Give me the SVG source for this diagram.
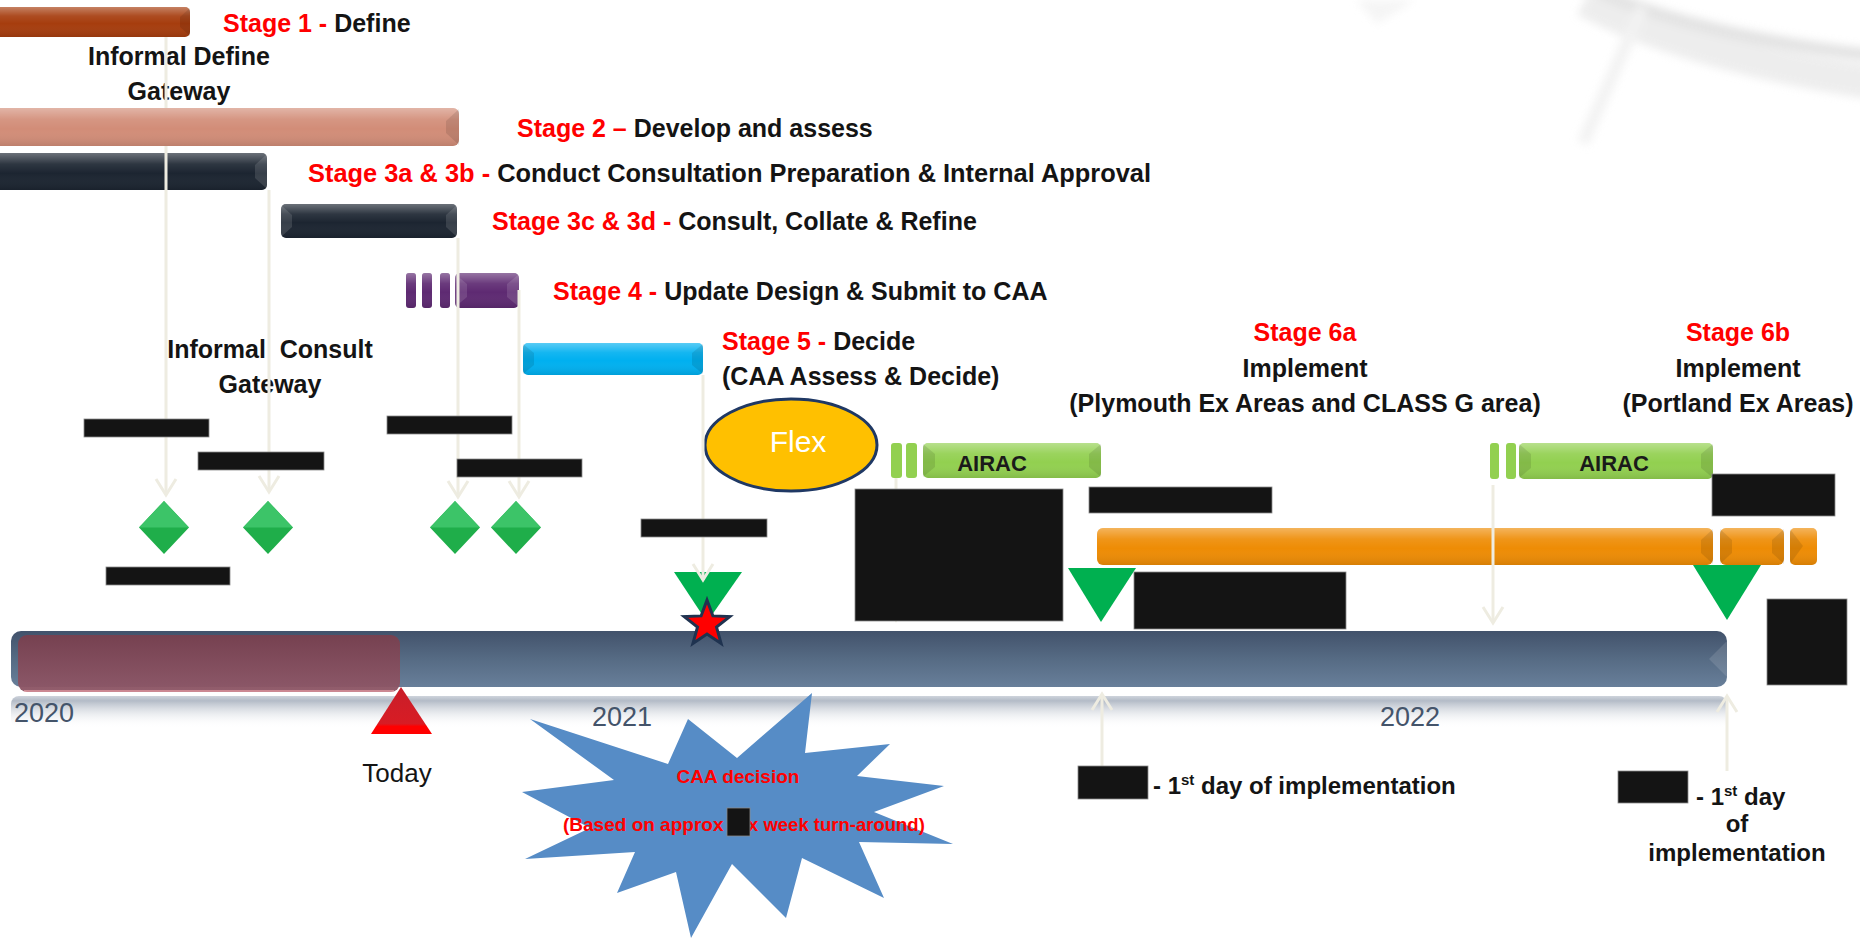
<svg xmlns="http://www.w3.org/2000/svg" width="1860" height="938" viewBox="0 0 1860 938">
<defs>
<style>
.t{font-family:"Liberation Sans",Arial,sans-serif;font-weight:bold;font-size:25px;fill:#141414}
.r{fill:#ff0000}
.c{text-anchor:middle}
.yr{font-family:"Liberation Sans",Arial,sans-serif;font-size:27px;fill:#44546a}
.today{font-family:"Liberation Sans",Arial,sans-serif;font-size:26px;fill:#141414}
.bt{font-family:"Liberation Sans",Arial,sans-serif;font-weight:bold;font-size:19px;fill:#ff0000}
.fd{font-family:"Liberation Sans",Arial,sans-serif;font-weight:bold;font-size:24px;fill:#141414}
.air{font-family:"Liberation Sans",Arial,sans-serif;font-weight:bold;font-size:22px;fill:#1a1a1a}
.flex{font-family:"Liberation Sans",Arial,sans-serif;font-size:30px;fill:#ffffff}
.cn{stroke:#eeece1;stroke-width:3;fill:none;marker-end:url(#arr)}
.red{fill:#141414;stroke:#8a8a8a;stroke-width:0.8}
.sh{fill:url(#shine)}
.fc{fill:#000;fill-opacity:0.1}
.fl{fill:#fff;fill-opacity:0.12}
.dia{fill:#1fae4a}
.diat{fill:#3cc468}
.gtri{fill:#00b050}
</style>
<linearGradient id="shine" x1="0" y1="0" x2="0" y2="1">
<stop offset="0" stop-color="#fff" stop-opacity="0.35"/>
<stop offset="0.3" stop-color="#fff" stop-opacity="0.08"/>
<stop offset="0.55" stop-color="#fff" stop-opacity="0"/>
<stop offset="1" stop-color="#000" stop-opacity="0.1"/>
</linearGradient>
<linearGradient id="tl" x1="0" y1="0" x2="0" y2="1">
<stop offset="0" stop-color="#42526b"/>
<stop offset="0.5" stop-color="#566b84"/>
<stop offset="1" stop-color="#687f9a"/>
</linearGradient>
<linearGradient id="ov" x1="0" y1="0" x2="0" y2="1">
<stop offset="0" stop-color="#78404f"/>
<stop offset="1" stop-color="#8e5767"/>
</linearGradient>
<linearGradient id="band" x1="0" y1="0" x2="0" y2="1">
<stop offset="0" stop-color="#c9cfd8" stop-opacity="0.9"/>
<stop offset="0.15" stop-color="#a6afbd" stop-opacity="0.85"/>
<stop offset="1" stop-color="#ffffff" stop-opacity="0"/>
</linearGradient>
<linearGradient id="tri" gradientUnits="userSpaceOnUse" x1="0" y1="687" x2="0" y2="734">
<stop offset="0" stop-color="#c81e2a"/>
<stop offset="0.78" stop-color="#d81c24"/>
<stop offset="0.84" stop-color="#ff0000"/>
<stop offset="1" stop-color="#ff0000"/>
</linearGradient>
<filter id="blur" x="-20%" y="-20%" width="140%" height="140%"><feGaussianBlur stdDeviation="4"/></filter>
<marker id="arr" markerUnits="userSpaceOnUse" markerWidth="24" markerHeight="24" viewBox="0 0 24 24" refX="20" refY="12" orient="auto">
<path d="M4,2 L20,12 L4,22" fill="none" stroke="#eeece1" stroke-width="3"/>
</marker>
</defs>
<rect x="0" y="0" width="1860" height="938" fill="#ffffff"/>

<g id="background-decoration" filter="url(#blur)" opacity="0.6">
<path d="M1585,0 Q1690,55 1870,82" fill="none" stroke="#e2e2e2" stroke-width="34"/>
<path d="M1600,-8 Q1700,35 1870,55" fill="none" stroke="#d0d0d0" stroke-width="12"/>
<line x1="1642" y1="8" x2="1583" y2="143" stroke="#eaeaea" stroke-width="12"/>
<path d="M1356,0 L1377,24 L1415,0 Z" fill="#efefef"/>
</g>

<g id="timeline">
<rect x="11" y="631" width="1716" height="56" rx="10" fill="url(#tl)"/>
<polygon points="1727,641 1709,659 1727,677" fill="#fff" fill-opacity="0.12"/>
<rect x="18" y="635" width="382" height="57" rx="9" fill="url(#ov)" fill-opacity="0.96"/>
<path d="M24,691 L394,691" stroke="#f4a6ae" stroke-opacity="0.6" stroke-width="2"/>
<rect x="11" y="696" width="1716" height="32" rx="8" fill="url(#band)"/>
<polygon id="today-marker" points="371,734 432,734 401,687" fill="url(#tri)"/>
<text class="yr" x="14" y="722">2020</text>
<text class="yr" x="592" y="726">2021</text>
<text class="yr" x="1380" y="726">2022</text>
<text class="today c" x="397" y="782">Today</text>
</g>

<g id="stage1-bar">
<rect x="-6" y="7" width="196" height="30" rx="5" fill="#a63d0e"/>
<rect x="-6" y="7" width="196" height="30" rx="5" class="sh"/>
<polygon class="fc" points="180,17 190,8 190,36 180,27"/>
</g>
<g id="stage3a-bar">
<rect x="-6" y="153" width="273" height="37" rx="5" fill="#1c2531"/>
<rect x="-6" y="153" width="273" height="37" rx="5" class="sh"/>
<polygon class="fl" points="255,165 267,154 267,189 255,178"/>
</g>
<g id="stage3c-bar">
<rect x="281" y="204" width="176" height="34" rx="5" fill="#1c2531"/>
<rect x="281" y="204" width="176" height="34" rx="5" class="sh"/>
<polygon class="fl" points="446,215 457,205 457,237 446,227"/>
<polygon class="fl" points="292,215 281,205 281,237 292,227"/>
</g>
<g id="stage4-bars">
<rect x="406" y="273" width="10" height="35" rx="3" fill="#5e2a72"/>
<rect x="422" y="273" width="10" height="35" rx="3" fill="#5e2a72"/>
<rect x="440" y="273" width="10" height="35" rx="3" fill="#5e2a72"/>
<rect x="455" y="273" width="64" height="35" rx="5" fill="#5e2a72"/>
<rect x="406" y="273" width="10" height="35" rx="3" class="sh"/>
<rect x="422" y="273" width="10" height="35" rx="3" class="sh"/>
<rect x="440" y="273" width="10" height="35" rx="3" class="sh"/>
<rect x="455" y="273" width="64" height="35" rx="5" class="sh"/>
<polygon class="fl" points="507,284 519,274 519,307 507,297"/>
<polygon class="fl" points="467,284 455,274 455,307 467,297"/>
</g>
<g id="stage5-bar">
<rect x="523" y="343" width="180" height="32" rx="5" fill="#00b0f0"/>
<rect x="523" y="343" width="180" height="32" rx="5" class="sh"/>
<polygon class="fc" points="692,353 703,344 703,374 692,365"/>
<polygon class="fc" points="534,353 523,344 523,374 534,365"/>
</g>

<g id="gateway-diamonds">
<polygon class="dia" points="164,501 189,527.5 164,554 139,527.5"/>
<polygon class="diat" points="164,501 189,527.5 139,527.5"/>
<polygon class="dia" points="268,501 293,527.5 268,554 243,527.5"/>
<polygon class="diat" points="268,501 293,527.5 243,527.5"/>
<polygon class="dia" points="455,501 480,527.5 455,554 430,527.5"/>
<polygon class="diat" points="455,501 480,527.5 430,527.5"/>
<polygon class="dia" points="516,501 541,527.5 516,554 491,527.5"/>
<polygon class="diat" points="516,501 541,527.5 491,527.5"/>
</g>

<g id="flex">
<ellipse cx="791" cy="445" rx="86" ry="46" fill="#ffc000" stroke="#1f3864" stroke-width="3"/>
<text class="flex c" x="798" y="452">Flex</text>
</g>

<g id="airac1">
<rect x="891" y="443" width="11" height="35" rx="3" fill="#92d050"/>
<rect x="906" y="443" width="11" height="35" rx="3" fill="#92d050"/>
<rect x="923" y="443" width="178" height="35" rx="5" fill="#92d050"/>
<rect x="923" y="443" width="178" height="35" rx="5" class="sh"/>
<polygon class="fc" points="1089,454 1101,444 1101,477 1089,467"/>
<polygon class="fc" points="935,454 923,444 923,477 935,467"/>
<text class="air c" x="992" y="471">AIRAC</text>
</g>
<g id="airac2">
<rect x="1490" y="443" width="9" height="36" rx="3" fill="#92d050"/>
<rect x="1506" y="443" width="10" height="36" rx="3" fill="#92d050"/>
<rect x="1519" y="443" width="194" height="36" rx="5" fill="#92d050"/>
<rect x="1519" y="443" width="194" height="36" rx="5" class="sh"/>
<polygon class="fc" points="1701,454 1713,444 1713,478 1701,468"/>
<polygon class="fc" points="1531,454 1519,444 1519,478 1531,468"/>
<text class="air c" x="1614" y="471">AIRAC</text>
</g>

<g id="stage6-bars">
<rect x="1097" y="528" width="616" height="37" rx="6" fill="#ee8c05"/>
<rect x="1097" y="528" width="616" height="37" rx="6" class="sh"/>
<polygon class="fc" points="1701,540 1713,529 1713,564 1701,553"/>
<rect x="1720" y="528" width="64" height="37" rx="6" fill="#ee8c05"/>
<rect x="1720" y="528" width="64" height="37" rx="6" class="sh"/>
<polygon class="fc" points="1732,540 1720,529 1720,564 1732,553"/>
<polygon class="fc" points="1772,540 1784,529 1784,564 1772,553"/>
<rect x="1790" y="528" width="27" height="37" rx="5" fill="#ee8c05"/>
<rect x="1790" y="528" width="27" height="37" rx="5" class="sh"/>
<polygon class="fc" points="1790,529 1803,546 1790,564"/>
</g>

<g id="milestone-triangles">
<polygon class="gtri" points="674,572 742,572 707,622"/>
<polygon class="gtri" points="1068,568 1136,568 1101,622"/>
<polygon class="gtri" points="1693,565 1761,565 1727,620"/>
</g>

<g id="labels">
<text class="t" x="223" y="32"><tspan class="r">Stage 1 -</tspan> Define</text>
<text class="t c" x="179" y="65">Informal Define</text>
<text class="t c" x="179" y="100">Gateway</text>
<text class="t" x="517" y="137"><tspan class="r">Stage 2 –</tspan> Develop and assess</text>
<text class="t" x="308" y="182" textLength="843" lengthAdjust="spacingAndGlyphs"><tspan class="r">Stage 3a &amp; 3b -</tspan> Conduct Consultation Preparation &amp; Internal Approval</text>
<text class="t" x="492" y="230"><tspan class="r">Stage 3c &amp; 3d -</tspan> Consult, Collate &amp; Refine</text>
<text class="t" x="553" y="300"><tspan class="r">Stage 4 -</tspan> Update Design &amp; Submit to CAA</text>
<text class="t" x="722" y="350"><tspan class="r">Stage 5 -</tspan> Decide</text>
<text class="t" x="722" y="385">(CAA Assess &amp; Decide)</text>
<text class="t c" x="270" y="358" style="white-space:pre">Informal  Consult</text>
<text class="t c" x="270" y="393">Gateway</text>
<text class="t c r" x="1305" y="341">Stage 6a</text>
<text class="t c" x="1305" y="377">Implement</text>
<text class="t c" x="1305" y="412">(Plymouth Ex Areas and CLASS G area)</text>
<text class="t c r" x="1738" y="341">Stage 6b</text>
<text class="t c" x="1738" y="377">Implement</text>
<text class="t c" x="1738" y="412">(Portland Ex Areas)</text>
<text class="fd" x="1153" y="794">- 1<tspan font-size="15" dy="-9">st</tspan><tspan dy="9"> day of implementation</tspan></text>
<text class="fd" x="1696" y="805">- 1<tspan font-size="15" dy="-9">st</tspan><tspan dy="9"> day</tspan></text>
<text class="fd c" x="1737" y="832">of</text>
<text class="fd c" x="1737" y="861">implementation</text>
</g>

<g id="connectors">
<line class="cn" x1="166" y1="37" x2="166" y2="495"/>
<line class="cn" x1="269" y1="190" x2="269" y2="492"/>
<line class="cn" x1="458" y1="238" x2="458" y2="497"/>
<line class="cn" x1="519" y1="290" x2="519" y2="497"/>
<line class="cn" x1="703" y1="375" x2="703" y2="580"/>
<line class="cn" x1="896" y1="478" x2="896" y2="620"/>
<line class="cn" x1="1493" y1="485" x2="1493" y2="623"/>
<line class="cn" x1="1102" y1="766" x2="1102" y2="694"/>
<line class="cn" x1="1727" y1="771" x2="1727" y2="696"/>
</g>

<g id="stage2-bar">
<rect x="-6" y="108" width="465" height="38" rx="6" fill="#d28d78"/>
<rect x="-6" y="108" width="465" height="38" rx="6" class="sh"/>
<polygon class="fc" points="446,121 459,109 459,145 446,133"/>
</g>

<g id="decision-star">
<polygon points="707,600 712.9,615.9 729.8,616.6 716.5,627.1 721.1,643.4 707,634 692.9,643.4 697.5,627.1 684.2,616.6 701.1,615.9" fill="#ff0000" stroke="#1f3350" stroke-width="3" stroke-linejoin="miter"/>
</g>

<g id="caa-decision-burst">
<polygon points="522,792 614,780 530,719 668,764 688,719 737,758 812,693 805,753 890,744 857,776 944,786 874,812 953,844 859,842 884,898 802,858 786,918 732,864 691,938 676,872 617,893 635,852 525,859 590,828" fill="#568cc6"/>
<text class="bt c" x="738" y="783">CAA decision</text>
<text class="bt"><tspan x="563" y="831">(Based on approx</tspan><tspan x="748" y="831" font-size="18.5">x week turn-around)</tspan></text>
</g>

<g id="redactions">
<rect class="red" x="84" y="419" width="125" height="18"/>
<rect class="red" x="198" y="452" width="126" height="18"/>
<rect class="red" x="106" y="567" width="124" height="18"/>
<rect class="red" x="387" y="416" width="125" height="18"/>
<rect class="red" x="457" y="459" width="125" height="18"/>
<rect class="red" x="641" y="519" width="126" height="18"/>
<rect class="red" x="855" y="489" width="208" height="132"/>
<rect class="red" x="1089" y="487" width="183" height="26"/>
<rect class="red" x="1134" y="572" width="212" height="57"/>
<rect class="red" x="1712" y="474" width="123" height="42"/>
<rect class="red" x="1767" y="599" width="80" height="86"/>
<rect class="red" x="1078" y="766" width="70" height="33"/>
<rect class="red" x="1618" y="771" width="70" height="32"/>
<rect class="red" x="727" y="808" width="23" height="28"/>
</g>
</svg>
